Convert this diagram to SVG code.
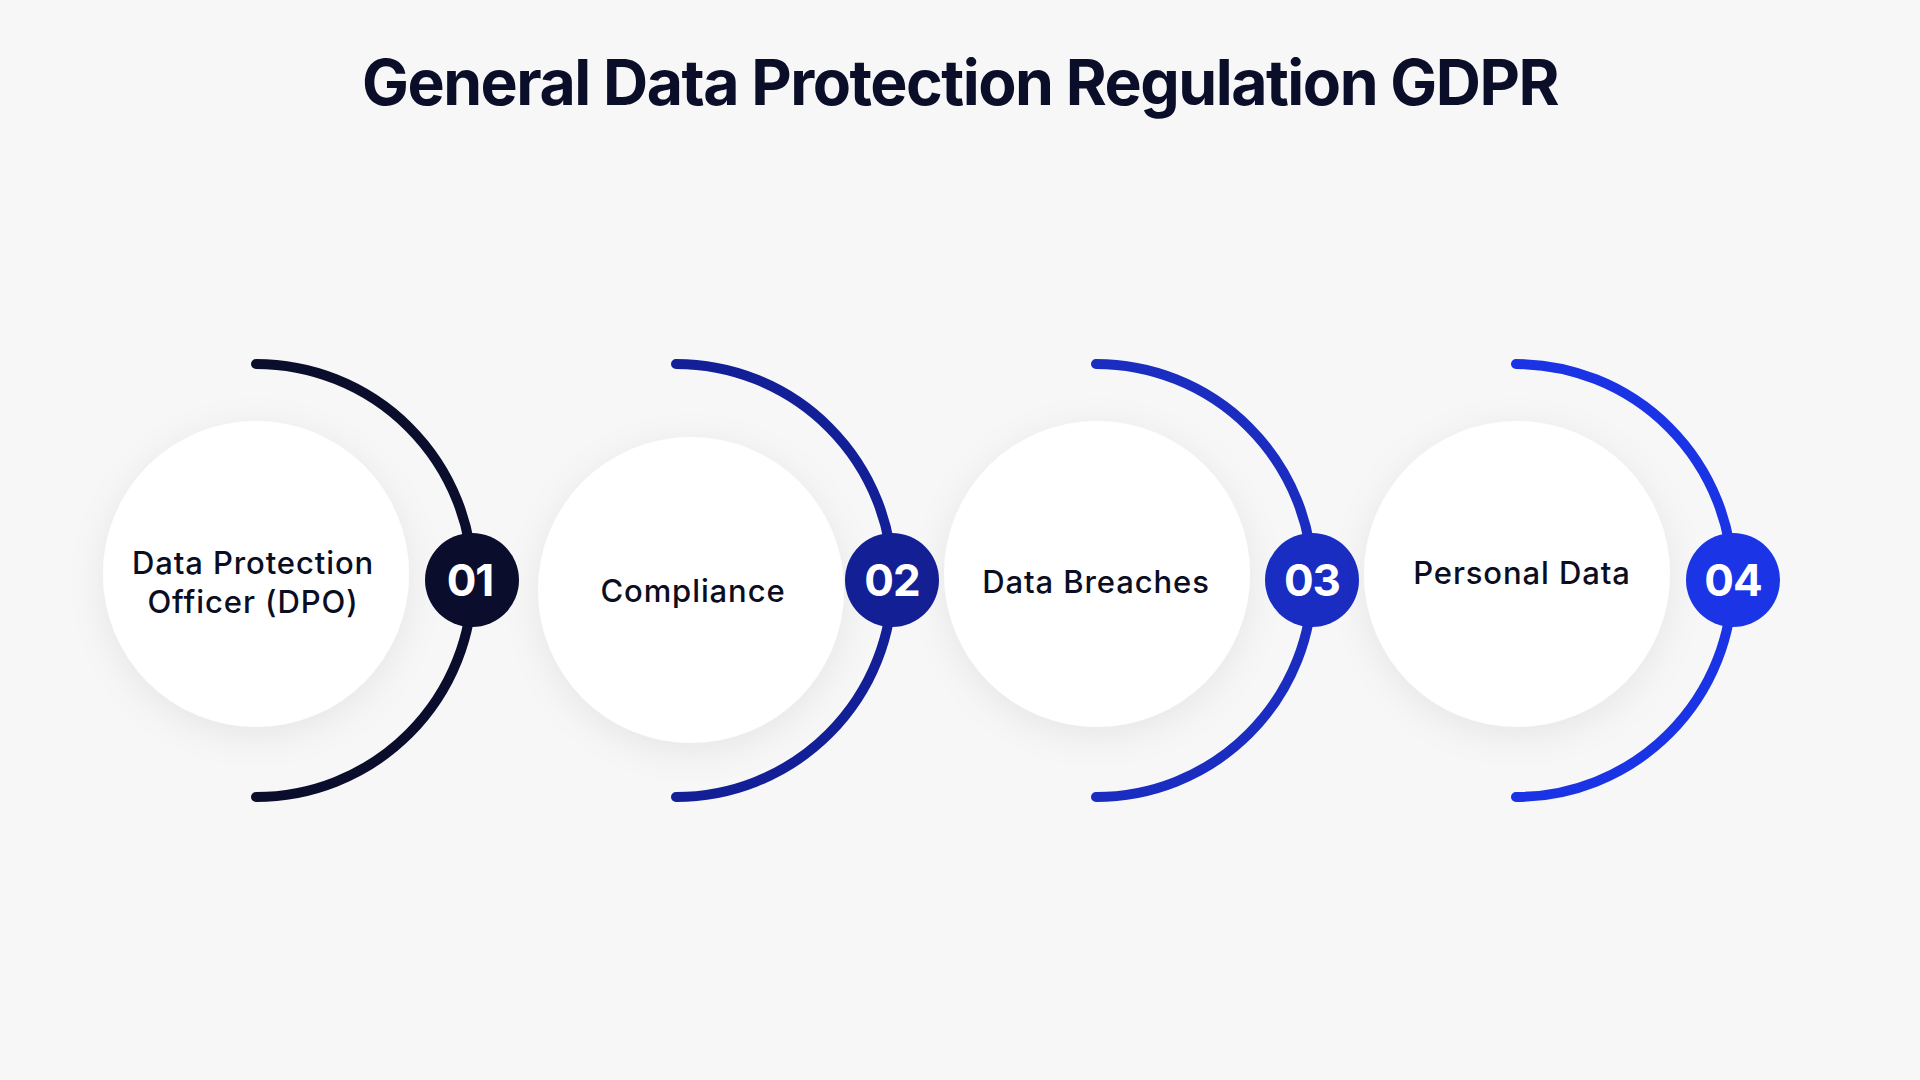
<svg xmlns="http://www.w3.org/2000/svg" width="1920" height="1080" viewBox="0 0 1920 1080">
  <defs>
    <filter id="shadow" x="-30%" y="-30%" width="160%" height="160%">
      <feDropShadow dx="0" dy="8" stdDeviation="18" flood-color="#000000" flood-opacity="0.07"/>
    </filter>
    <style>
      .title { font-family: Inter, "Liberation Sans", sans-serif; font-weight: 700; font-size: 63px; fill: #0b0e28; letter-spacing: -1.5px; }
      .card { fill: #ffffff; filter: url(#shadow); }
      .label { font-family: Inter, "Liberation Sans", sans-serif; font-weight: 500; font-size: 31px; fill: #0b0e22; text-anchor: middle; letter-spacing: 0.9px; }
      .num { font-family: Inter, "Liberation Sans", sans-serif; font-weight: 700; font-size: 44px; fill: #ffffff; text-anchor: middle; letter-spacing: -1px; }
      .arc { fill: none; stroke-width: 10; stroke-linecap: round; }
    </style>
  </defs>
  <rect width="1920" height="1080" fill="#f7f7f8"/>
  <text class="title" x="960" y="105" text-anchor="middle" textLength="1196" lengthAdjust="spacingAndGlyphs">General Data Protection Regulation GDPR</text>

  <g id="connectors">
    <path class="arc" stroke="#0a0d2c" d="M256,364 A216.5,216.5 0 0 1 256,797"/>
    <path class="arc" stroke="#121f96" d="M676,364 A216.5,216.5 0 0 1 676,797"/>
    <path class="arc" stroke="#1a2dc0" d="M1096,364 A216.5,216.5 0 0 1 1096,797"/>
    <path class="arc" stroke="#1a33e4" d="M1516,364 A216.5,216.5 0 0 1 1516,797"/>
  </g>

  <g id="node1">
    <circle class="card" cx="256" cy="574" r="153"/>
    <text class="label" x="253" y="574">Data Protection</text>
    <text class="label" x="253" y="613">Officer (DPO)</text>
  </g>
  <g id="badge1">
    <circle cx="472" cy="580" r="47" fill="#0a0d2c"/>
    <text class="num" x="470" y="596">01</text>
  </g>

  <g id="node2">
    <circle class="card" cx="691" cy="590" r="153"/>
    <text class="label" x="693" y="602">Compliance</text>
  </g>
  <g id="badge2">
    <circle cx="892" cy="580" r="47" fill="#131f94"/>
    <text class="num" x="892" y="596">02</text>
  </g>

  <g id="node3">
    <circle class="card" cx="1097" cy="574" r="153"/>
    <text class="label" x="1096" y="593">Data Breaches</text>
  </g>
  <g id="badge3">
    <circle cx="1312" cy="580" r="47" fill="#1a2dc2"/>
    <text class="num" x="1312" y="596">03</text>
  </g>

  <g id="node4">
    <circle class="card" cx="1517" cy="574" r="153"/>
    <text class="label" x="1522" y="584">Personal Data</text>
  </g>
  <g id="badge4">
    <circle cx="1733" cy="580" r="47" fill="#1a34e6"/>
    <text class="num" x="1733" y="596">04</text>
  </g>
</svg>
